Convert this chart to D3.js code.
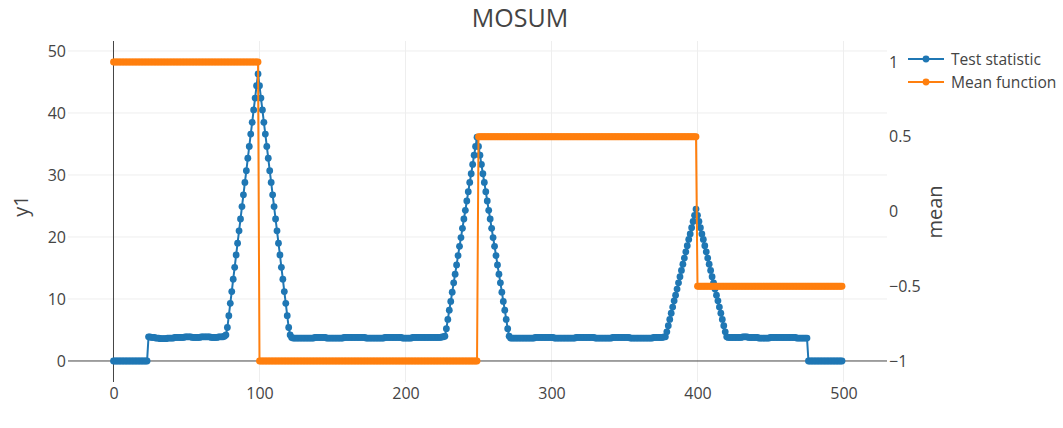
<!DOCTYPE html>
<html>
<head>
<meta charset="utf-8">
<script src="https://cdn.jsdelivr.net/npm/d3@7"></script>
<style>
  html, body { margin: 0; padding: 0; background: #fff; }
  svg { display: block; font-family: "Open Sans", "DejaVu Sans", sans-serif; }
</style>
</head>
<body>
<svg id="chart" width="1063" height="428"></svg>
<script>
// ---- data -------------------------------------------------------------
const xTicks = [0, 100, 200, 300, 400, 500];
const yLeftTicks = [0, 10, 20, 30, 40, 50];
const yRightTicks = [-1, -0.5, 0, 0.5, 1];

// MOSUM test statistic, read segment by segment (index 0..499)
const statLeadZeros = [
  0,0,0,0,0,0,0,0,0,0, 0,0,0,0,0,0,0,0,0,0, 0,0,0,0
];
const statFlat1 = [
  3.9,3.9,3.8,3.8,3.8,3.7,3.7,3.7,3.6,3.6,
  3.6,3.6,3.6,3.7,3.7,3.7,3.7,3.7,3.8,3.8,
  3.8,3.8,3.8,3.8,3.8,3.9,3.9,3.9,3.9,3.9,
  3.8,3.8,3.8,3.8,3.8,3.8,3.9,3.9,3.9,3.9,
  3.9,3.9,3.9,3.8,3.8,3.8,3.8,3.8,3.9,3.9,
  3.9,3.9,4.0
];
const statPeak1 = [
  4.2,5.4,7.3,9.3,11.2,13.2,15.1,17.1,19.0,21.0,
  22.9,24.9,26.8,28.8,30.7,32.7,34.6,36.6,38.5,40.5,
  42.4,44.4,46.3,44.4,42.4,40.5,38.5,36.6,34.6,32.7,
  30.7,28.8,26.8,24.9,22.9,21.0,19.0,17.1,15.1,13.2,
  11.2,9.3,7.3,5.4,4.2
];
const statFlat2 = [
  3.8,3.7,3.7,3.7,3.7,3.7,3.7,3.7,3.7,3.7,
  3.7,3.7,3.7,3.7,3.7,3.7,3.8,3.8,3.8,3.8,
  3.8,3.8,3.8,3.8,3.7,3.7,3.7,3.7,3.7,3.7,
  3.7,3.7,3.7,3.7,3.7,3.7,3.8,3.8,3.8,3.8,
  3.8,3.8,3.8,3.8,3.8,3.8,3.8,3.8,3.8,3.8,
  3.8,3.7,3.7,3.7,3.7,3.7,3.7,3.7,3.7,3.7,
  3.7,3.7,3.7,3.7,3.8,3.8,3.8,3.8,3.8,3.8,
  3.8,3.8,3.8,3.8,3.8,3.8,3.7,3.7,3.7,3.7,
  3.7,3.7,3.7,3.8,3.8,3.8,3.8,3.8,3.8,3.8,
  3.8,3.8,3.8,3.8,3.8,3.8,3.8,3.8,3.8,3.8,
  3.8,3.8,3.8,3.9,3.9
];
const statPeak2 = [
  4.0,5.2,6.7,8.2,9.6,11.1,12.6,14.0,15.5,17.0,
  18.5,19.9,21.4,22.9,24.3,25.8,27.3,28.8,30.2,31.7,
  33.2,34.6,36.1,34.6,33.2,31.7,30.2,28.8,27.3,25.8,
  24.3,22.9,21.4,19.9,18.5,17.0,15.5,14.0,12.6,11.1,
  9.6,8.2,6.7,5.2,4.0
];
const statFlat3 = [
  3.7,3.7,3.7,3.7,3.7,3.7,3.7,3.7,3.7,3.7,
  3.7,3.7,3.7,3.7,3.7,3.7,3.7,3.8,3.8,3.8,
  3.8,3.8,3.8,3.8,3.8,3.8,3.8,3.8,3.8,3.8,
  3.7,3.7,3.7,3.7,3.7,3.7,3.7,3.7,3.7,3.7,
  3.7,3.7,3.7,3.7,3.7,3.8,3.8,3.8,3.8,3.8,
  3.8,3.8,3.8,3.8,3.8,3.8,3.8,3.8,3.7,3.7,
  3.7,3.7,3.7,3.7,3.7,3.7,3.7,3.7,3.7,3.7,
  3.8,3.8,3.8,3.8,3.8,3.8,3.8,3.8,3.8,3.8,
  3.8,3.8,3.7,3.7,3.7,3.7,3.7,3.7,3.7,3.7,
  3.7,3.7,3.7,3.7,3.7,3.7,3.7,3.7,3.8,3.8,
  3.8,3.8,3.8,3.8,3.8,3.9
];
const statPeak3 = [
  3.9,4.7,5.7,6.7,7.7,8.7,9.7,10.6,11.6,12.6,
  13.6,14.6,15.6,16.6,17.6,18.6,19.6,20.5,21.5,22.5,
  23.5,24.5,23.5,22.5,21.5,20.5,19.6,18.6,17.6,16.6,
  15.6,14.6,13.6,12.6,11.6,10.6,9.7,8.7,7.7,6.7,
  5.7,4.7,3.9
];
const statFlat4 = [
  3.8,3.8,3.8,3.8,3.8,3.8,3.8,3.8,3.8,3.8,
  3.9,3.9,3.9,3.9,3.8,3.8,3.8,3.8,3.8,3.8,
  3.8,3.7,3.7,3.7,3.7,3.7,3.7,3.7,3.7,3.8,
  3.8,3.8,3.8,3.8,3.8,3.8,3.8,3.8,3.8,3.8,
  3.8,3.8,3.8,3.8,3.8,3.8,3.8,3.7,3.7,3.7,
  3.7,3.7,3.7,3.7,3.7
];
const statTrailZeros = [
  0,0,0,0,0,0,0,0,0,0, 0,0,0,0,0,0,0,0,0,0, 0,0,0,0
];

// Piecewise-constant mean function
const meanStarts = [0, 100, 250, 400];
const meanEnds   = [99, 249, 399, 499];
const meanLevels = [1, -1, 0.5, -0.5];

const seriesNames = ["Test statistic", "Mean function"];
const seriesColors = ["#1f77b4", "#ff7f0e"];

// ---- build point lists ------------------------------------------------
const statValues = [].concat(statLeadZeros, statFlat1, statPeak1, statFlat2,
  statPeak2, statFlat3, statPeak3, statFlat4, statTrailZeros);
const statPoints = statValues.map((v, i) => ({ x: i, y: v }));

const meanPoints = [];
meanLevels.forEach((lvl, k) => {
  for (let i = meanStarts[k]; i <= meanEnds[k]; i++) meanPoints.push({ x: i, y: lvl });
});

// ---- layout -----------------------------------------------------------
const svg = d3.select("#chart");
const plot = { left: 68, right: 887, top: 41, bottom: 382 };
const tickFont = "16px";

const x = d3.scaleLinear().domain([-31.16, 529.8]).range([plot.left, plot.right]);
const yL = d3.scaleLinear().domain([-3.39, 51.61]).range([plot.bottom, plot.top]);
const yR = d3.scaleLinear().domain([-1.1405, 1.1405]).range([plot.bottom, plot.top]);

svg.append("rect").attr("width", 1063).attr("height", 428).attr("fill", "#fff");

// gridlines
const grid = svg.append("g").attr("stroke", "#eee").attr("stroke-width", 1);
grid.selectAll("line.vx").data(xTicks.filter(d => d !== 0)).join("line")
  .attr("x1", d => x(d)).attr("x2", d => x(d))
  .attr("y1", plot.top).attr("y2", plot.bottom);
grid.selectAll("line.hy").data(yLeftTicks.filter(d => d !== 0)).join("line")
  .attr("x1", plot.left).attr("x2", plot.right)
  .attr("y1", d => yL(d)).attr("y2", d => yL(d));

// zero lines
svg.append("line").attr("x1", x(0)).attr("x2", x(0))
  .attr("y1", plot.top).attr("y2", plot.bottom)
  .attr("stroke", "#444").attr("stroke-width", 1);
svg.append("line").attr("x1", plot.left).attr("x2", plot.right)
  .attr("y1", yL(0)).attr("y2", yL(0))
  .attr("stroke", "#444").attr("stroke-width", 1);

// axes
function styleAxis(g) {
  g.select(".domain").remove();
  g.selectAll(".tick line").remove();
  g.selectAll("text").attr("fill", "#444").style("font-size", tickFont)
    .style("font-family", '"Open Sans", sans-serif');
}
svg.append("g").attr("transform", `translate(0,${plot.bottom})`)
  .call(d3.axisBottom(x).tickValues(xTicks).tickSize(0).tickPadding(6))
  .call(styleAxis);
svg.append("g").attr("transform", `translate(${plot.left - 1},0)`)
  .call(d3.axisLeft(yL).tickValues(yLeftTicks).tickSize(0).tickPadding(1))
  .call(styleAxis);

svg.append("clipPath").attr("id", "rclip").append("rect")
  .attr("x", 0).attr("y", 0).attr("width", 921).attr("height", 428);
svg.append("g").attr("clip-path", "url(#rclip)")
  .append("g").attr("transform", `translate(${plot.right},0)`)
  .call(d3.axisRight(yR).tickValues(yRightTicks).tickSize(0).tickPadding(2)
    .tickFormat(d3.format("")))
  .call(styleAxis);

// series
svg.append("clipPath").attr("id", "plotclip").append("rect")
  .attr("x", plot.left - 4).attr("y", plot.top - 4)
  .attr("width", plot.right - plot.left + 8).attr("height", plot.bottom - plot.top + 8);

const layer = svg.append("g").attr("clip-path", "url(#plotclip)");

function drawSeries(points, yScale, color) {
  const g = layer.append("g");
  g.append("path").datum(points)
    .attr("fill", "none").attr("stroke", color).attr("stroke-width", 2)
    .attr("stroke-linejoin", "round")
    .attr("d", d3.line().x(d => x(d.x)).y(d => yScale(d.y)));
  g.selectAll("circle").data(points).join("circle")
    .attr("cx", d => x(d.x)).attr("cy", d => yScale(d.y))
    .attr("r", 3.4).attr("fill", color);
}
drawSeries(statPoints, yL, seriesColors[0]);
drawSeries(meanPoints, yR, seriesColors[1]);

// title and axis titles
svg.append("text").attr("x", 520).attr("y", 27).attr("text-anchor", "middle")
  .attr("fill", "#444").style("font-size", "25px").text("MOSUM");
svg.append("text").attr("transform", "translate(28,206) rotate(-90)")
  .attr("text-anchor", "middle").attr("fill", "#444").style("font-size", "20px").text("y1");
svg.append("text").attr("transform", "translate(942,212) rotate(-90)")
  .attr("text-anchor", "middle").attr("fill", "#444").style("font-size", "20px").text("mean");

// legend
const legend = svg.append("g").attr("transform", "translate(908,59)");
seriesNames.forEach((name, i) => {
  const row = legend.append("g").attr("transform", `translate(0,${i * 23})`);
  row.append("line").attr("x1", 0).attr("x2", 36).attr("y1", 0).attr("y2", 0)
    .attr("stroke", seriesColors[i]).attr("stroke-width", 2);
  row.append("circle").attr("cx", 18).attr("cy", 0).attr("r", 3.4).attr("fill", seriesColors[i]);
  row.append("text").attr("x", 43).attr("y", 5.5).attr("fill", "#444")
    .style("font-size", "15.6px").text(name);
});
</script>
</body>
</html>
